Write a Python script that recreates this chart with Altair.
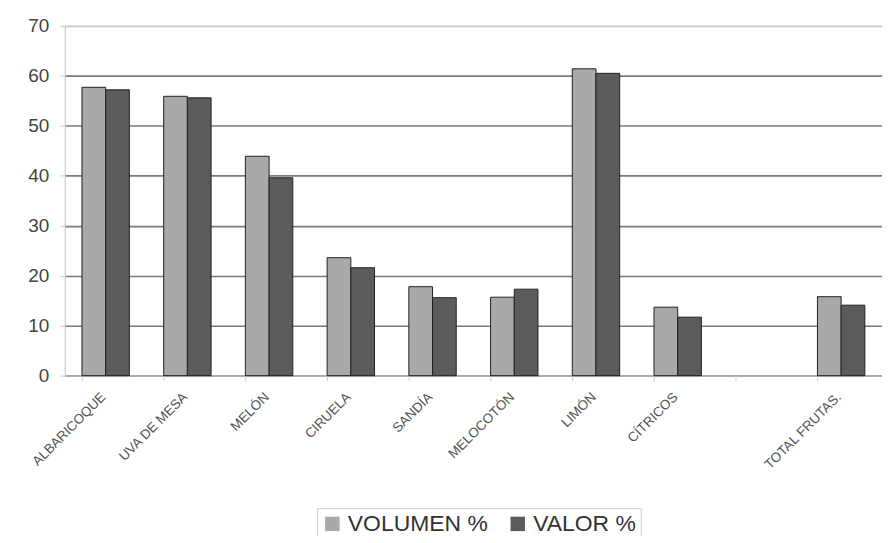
import altair as alt
import pandas as pd

categories = ["ALBARICOQUE", "UVA DE MESA", "MELÓN", "CIRUELA", "SANDÍA",
              "MELOCOTÓN", "LIMÓN", "CÍTRICOS", " ", "TOTAL FRUTAS."]
volumen = [57.7, 55.9, 43.9, 23.6, 17.8, 15.7, 61.4, 13.7, None, 15.8]
valor = [57.2, 55.6, 39.6, 21.6, 15.6, 17.3, 60.5, 11.7, None, 14.1]
series = ["VOLUMEN %", "VALOR %"]
y_ticks = [0, 10, 20, 30, 40, 50, 60, 70]

rows = []
for c, a, b in zip(categories, volumen, valor):
    if a is not None:
        rows.append({"cat": c, "serie": series[0], "v": a})
    if b is not None:
        rows.append({"cat": c, "serie": series[1], "v": b})
df = pd.DataFrame(rows)

font = "Liberation Sans"

x_scale = alt.Scale(domain=categories, paddingInner=0.42, paddingOuter=0.21)

bars = alt.Chart(df).mark_bar(stroke="#222222", strokeWidth=1).encode(
    x=alt.X("cat:N", scale=x_scale, sort=categories,
            axis=alt.Axis(title=None, labelAngle=-45, labelFontSize=13.5,
                          labelColor="#555555", labelFont=font, ticks=False,
                          domainColor="#cccccc", labelPadding=14,
                          labelOffset=-7)),
    xOffset=alt.XOffset("serie:N", sort=series, scale=alt.Scale(domain=series, paddingInner=0, paddingOuter=0)),
    y=alt.Y("v:Q", scale=alt.Scale(domain=[0, 70]),
            axis=alt.Axis(title=None, values=y_ticks, labelFontSize=19,
                          labelColor="#444444", labelFont=font,
                          domainColor="#cccccc", tickColor="#cccccc",
                          tickSize=5, labelPadding=11,
                          gridColor={"condition": {"test": "datum.value == 70", "value": "#c8c8c8"}, "value": "#7a7a7a"},
                          gridWidth=1.6)),
    color=alt.Color("serie:N", sort=series,
                    scale=alt.Scale(domain=series, range=["#a9a9a9", "#5b5b5b"]),
                    legend=alt.Legend(title=None, orient="none", direction="horizontal",
                                      legendX=253, legendY=484,
                                      symbolType="square", symbolSize=210,
                                      symbolStrokeWidth=0,
                                      labelFontSize=23, labelFont=font, labelColor="#333333",
                                      columnPadding=18, labelOffset=4,
                                      strokeColor="#cccccc", padding=4)),
)

ticks_df = pd.DataFrame({"cat": categories})
ticks = alt.Chart(ticks_df).mark_tick(opacity=0).encode(
    x=alt.X("cat:N", scale=x_scale, sort=categories,
            axis=alt.Axis(title=None, labels=False, domain=False, grid=False,
                          ticks=True, tickColor="#cccccc", tickSize=5,
                          bandPosition=0, orient="bottom")),
)

chart = alt.layer(bars, ticks).resolve_axis(x="independent").properties(
    width=820, height=351,
    autosize=alt.AutoSizeParams(type="none"),
    padding={"left": 57, "top": 17, "right": 0, "bottom": 160},
).configure_view(stroke=None).configure(background="white")

chart.save("out.html", embed_options={"renderer": "svg", "actions": False})
